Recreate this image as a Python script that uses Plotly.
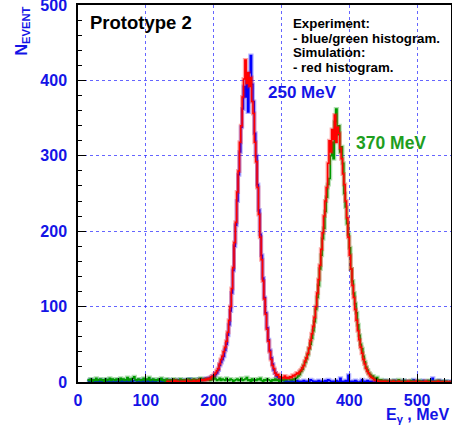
import plotly.graph_objects as go

# histogram binning (MeV)
X0 = 14
BW = 2
RED_X0 = 130

# experiment, 250 MeV beam (blue), bins from 14 to 550
blue = (
    [2, 1, 3, 0, 2, 1, 1, 2, 0, 3, 1, 2, 0, 1, 3, 1, 0, 2, 1, 1,
     2, 0, 1, 3, 1, 2, 1, 0, 2, 1, 1, 3, 0, 1, 2, 2, 1, 0, 1, 3,
     1, 2, 1, 0, 2, 1, 3, 1, 2, 0, 1, 2, 2, 1, 3, 1, 0, 2, 1, 2,
     3, 1, 2, 0, 1, 2, 3, 1, 2, 2, 1, 3, 2, 1, 2, 4, 2, 3, 1, 2,
     3, 2, 4, 3, 2, 4, 3, 5]
    + [4, 5, 6, 5, 8, 7, 10, 12, 16, 22, 26, 30, 34, 42, 50, 62, 76, 94, 118, 148,
       180, 208, 240, 275, 305, 338, 362, 392, 378, 402, 358, 410, 433, 395, 372, 330, 300, 262, 228, 196,
       168, 138, 112, 92, 72, 56, 42, 32, 24, 16, 12, 8, 6, 4, 3, 3, 2, 1, 2, 1]
    + [1, 0, 2, 1, 0, 1, 2, 0, 1, 0, 1, 2, 0, 1, 0, 1, 3, 2, 1, 0,
       1, 0, 2, 1, 0, 1, 0, 2, 1, 3, 2, 1, 0, 1, 0, 2, 1, 0, 5, 1,
       0, 1, 2, 0, 9, 1, 0, 1, 0, 2, 1, 0, 0, 1, 3, 0, 1, 0, 2, 1,
       0, 1, 0, 0, 2, 1, 0, 1, 0, 1, 0, 2, 0, 1, 0]
    + [0, 1, 0, 2, 0, 1, 0, 0, 1, 0, 2, 0, 1, 0, 0, 1, 0, 3, 0, 1,
       0, 0, 1, 0, 2, 0, 0, 1, 0, 0, 1, 5, 0, 1, 0, 0, 2, 0, 1, 0,
       0, 1, 0, 0, 1]
)

# experiment, 370 MeV beam (green), bins from 14 to 550
green = (
    [3, 2, 4, 1, 3, 2, 5, 2, 3, 4, 2, 3, 1, 4, 2, 3, 5, 2, 4, 3,
     2, 4, 3, 2, 5, 3, 4, 2, 3, 6, 2, 4, 3, 5, 7, 3, 2, 4, 3, 2,
     3, 5, 2, 4, 3, 6, 2, 3, 4, 2, 3, 2, 4, 3, 5, 2, 3, 1, 4, 2,
     3, 2, 3, 4, 2, 3, 1, 2, 4, 3, 2, 3, 1, 2, 4, 2, 3, 2, 4, 1,
     3, 2, 4, 5, 2, 3, 4, 3]
    + [3, 4, 2, 5, 3, 6, 4, 2, 3, 5, 2, 4, 3, 2, 5, 3, 2, 4, 3, 1,
       2, 3, 4, 2, 3, 5, 2, 3, 4, 6, 2, 3, 1, 4, 2, 3, 2, 4, 3, 5,
       2, 1, 3, 2, 4, 3, 2, 1, 3, 2, 4, 2, 3, 1, 2, 3, 2, 4, 3, 5]
    + [4, 3, 3, 4, 3, 5, 6, 8, 10, 14, 17, 22, 26, 31, 36, 44, 50, 58, 68, 80,
       96, 112, 128, 150, 168, 190, 204, 226, 245, 262, 270, 300, 318, 296, 345, 362, 328, 340, 305, 312,
       290, 250, 232, 210, 196, 178, 150, 134, 118, 104, 92, 76, 62, 50, 44, 34, 27, 20, 16, 12,
       10, 7, 8, 5, 4, 6, 3, 2, 3, 1, 2, 1, 2, 0, 1]
    + [1, 0, 2, 1, 0, 1, 3, 0, 1, 0, 2, 1, 0, 1, 0, 2, 0, 1, 0, 1,
       0, 2, 0, 1, 0, 0, 1, 0, 2, 0, 1, 0, 0, 1, 0, 2, 0, 0, 1, 0,
       0, 1, 0, 0, 0]
)

# simulation (red), bins from 130 to 550
red = (
    [0, 1, 0, 0, 1, 0, 2, 0, 1, 0, 0, 1, 0, 1, 0, 2, 1, 0, 1, 1,
     2, 1, 0, 2, 1, 3, 2, 3, 2, 4]
    + [3, 5, 4, 7, 8, 10, 12, 15, 18, 24, 30, 34, 40, 46, 54, 66, 82, 100, 124, 152,
       185, 212, 252, 280, 318, 340, 378, 402, 427, 396, 410, 392, 404, 372, 356, 318, 292, 258, 222, 192,
       162, 134, 110, 90, 70, 54, 40, 30, 22, 18, 12, 9, 10, 6, 7, 5, 6, 8, 5, 6]
    + [5, 7, 6, 9, 8, 10, 12, 11, 14, 16, 19, 22, 28, 32, 38, 45, 55, 64, 74, 86,
       100, 118, 136, 155, 176, 198, 220, 240, 258, 290, 320, 305, 335, 322, 354, 318, 338, 330, 310, 296,
       276, 262, 240, 218, 192, 168, 150, 128, 112, 96, 82, 68, 56, 46, 38, 30, 24, 18, 14, 11,
       8, 6, 5, 3, 2, 2, 1, 1, 0, 1, 0, 1, 0, 0, 1]
    + [0, 0, 1, 0, 0, 0, 1, 0, 0, 0, 0, 0, 0, 1, 0, 0, 0, 0, 0, 1,
       0, 0, 0, 0, 0, 0, 1, 0, 0, 0, 0, 0, 0, 0, 0, 1, 0, 0, 0, 0,
       0, 0, 0, 0, 0]
)

NOTE_LINES = ['Experiment:', '- blue/green histogram.', 'Simulation:', '- red histogram.']


def steps(counts, x0):
    xs = [x0 + BW * i for i in range(len(counts) + 1)]
    ys = counts + [counts[-1]]
    return xs, ys


fig = go.Figure()
for counts, x0, col, halo in [
    (blue, X0, '#0000ff', 'rgba(0,0,255,0.30)'),
    (green, X0, '#009900', 'rgba(0,153,0,0.30)'),
    (red, RED_X0, '#ff0000', 'rgba(255,0,0,0.35)'),
]:
    xs, ys = steps(counts, x0)
    fig.add_trace(go.Scatter(x=xs, y=ys, mode='lines', line_shape='hv',
                             line=dict(color=halo, width=4), hoverinfo='skip'))
    fig.add_trace(go.Scatter(x=xs, y=ys, mode='lines', line_shape='hv',
                             line=dict(color=col, width=1.5)))

FONT = 'Liberation Sans, Arial, sans-serif'
BLUE = '#1414e6'
axis_common = dict(
    showline=True, linecolor='black', linewidth=1.5, mirror=True,
    ticks='inside', ticklen=8, tickcolor='black',
    showgrid=True, gridcolor='rgba(50,50,255,0.75)', griddash='dot', gridwidth=1,
    zeroline=False, automargin=False, ticklabeloverflow='allow',
    tickfont=dict(family=FONT, size=16, color=BLUE, weight='bold'),
)
fig.update_xaxes(range=[0, 550], tickvals=[0, 100, 200, 300, 400, 500],
                 minor=dict(dtick=20, ticklen=4, ticks='inside', tickcolor='black', showgrid=False),
                 ticklabelstandoff=3, **axis_common)
fig.update_yaxes(range=[0, 500], tickvals=[0, 100, 200, 300, 400, 500],
                 minor=dict(dtick=20, ticklen=4, ticks='inside', tickcolor='black', showgrid=False),
                 ticklabelstandoff=6, **axis_common)

fig.add_annotation(xref='paper', yref='paper', x=-0.15, y=1.0, xanchor='center', yanchor='top',
                   text='N<sub>EVENT</sub>', textangle=-90, showarrow=False,
                   font=dict(family=FONT, size=16, color=BLUE, weight='bold'))
fig.add_annotation(xref='paper', yref='paper', x=1.0, y=-0.09, xanchor='right', yanchor='middle',
                   text='E<sub>γ</sub> , MeV', showarrow=False,
                   font=dict(family=FONT, size=16, color=BLUE, weight='bold'))
fig.add_annotation(xref='paper', yref='paper', x=0.028, y=0.988, xanchor='left', yanchor='top',
                   text='Prototype 2', showarrow=False,
                   font=dict(family=FONT, size=18.5, color='black', weight='bold'))
for i, line in enumerate(NOTE_LINES):
    fig.add_annotation(xref='paper', yref='paper', x=0.57, y=1 - (18.5 + 14.5 * i) / 377,
                       xanchor='left', yanchor='middle', text=line, showarrow=False,
                       font=dict(family=FONT, size=13.3, color='black', weight='bold'))
fig.add_annotation(xref='paper', yref='paper', x=0.504, y=0.767, xanchor='left', yanchor='middle',
                   text='250 MeV', showarrow=False,
                   font=dict(family=FONT, size=17, color=BLUE, weight='bold'))
fig.add_annotation(xref='paper', yref='paper', x=0.74, y=0.633, xanchor='left', yanchor='middle',
                   text='370 MeV', showarrow=False,
                   font=dict(family=FONT, size=17.5, color='#1e9e1e', weight='bold'))

fig.update_layout(
    width=452, height=429,
    margin=dict(l=78, r=1, t=5, b=47),
    plot_bgcolor='white', paper_bgcolor='white',
    showlegend=False,
)
fig.write_html("out.html", config={'displayModeBar': False},
               post_script="document.body.style.margin='0';")
